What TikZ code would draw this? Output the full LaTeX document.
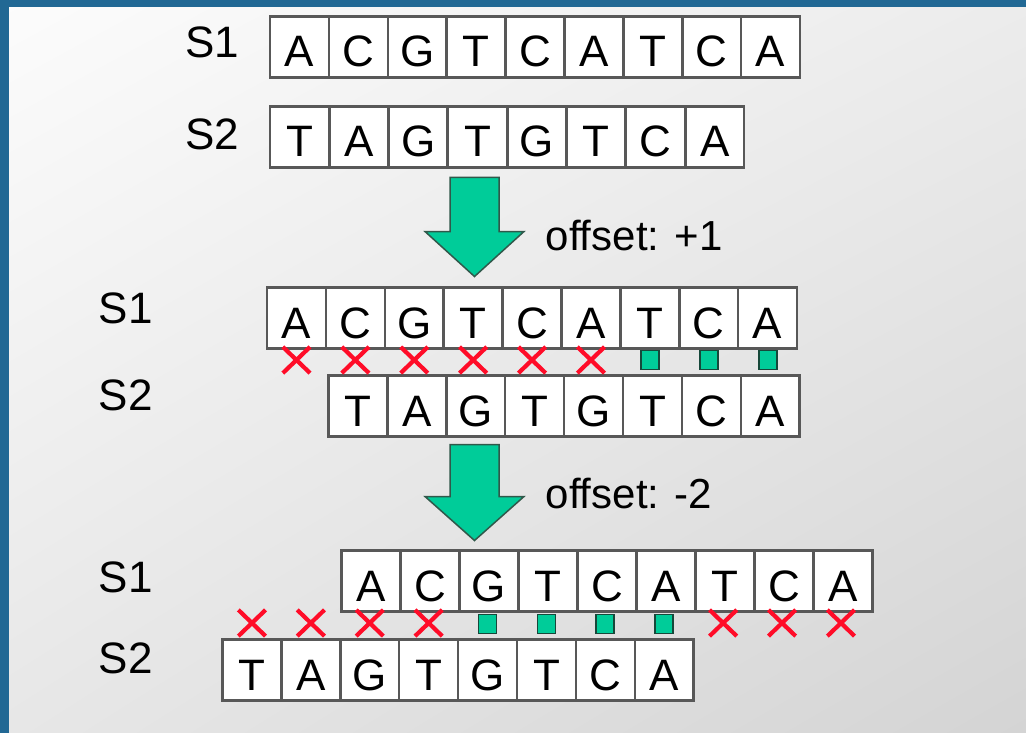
\documentclass[tikz,border=0pt]{standalone}
\usepackage{fontspec}
\setmainfont{Liberation Sans}
\usetikzlibrary{shapes.misc,shadings}
\definecolor{frameblue}{RGB}{33,104,148}
\definecolor{cellgray}{RGB}{88,88,88}
\definecolor{mgreen}{RGB}{0,204,153}
\definecolor{mgreenborder}{RGB}{22,72,58}
\definecolor{arrowborder}{RGB}{48,88,74}
\definecolor{xred}{RGB}{255,12,40}
\definecolor{bgul}{RGB}{252,252,252}
\definecolor{bgur}{RGB}{236,236,236}
\definecolor{bgll}{RGB}{231,231,231}
\definecolor{bglr}{RGB}{212,212,212}
\begin{document}
\begin{tikzpicture}[x=1pt,y=-1pt,
  cell/.style={rectangle, draw=cellgray, line width=2.5pt, fill=white,
    minimum width=58.9pt, minimum height=61pt, inner sep=0pt, outer sep=0pt,
    font=\fontsize{44}{44}\selectfont, text height=40pt, text depth=0pt},
  seqlabel/.style={font=\fontsize{44}{44}\selectfont, anchor=base west, inner sep=0pt},
  offsetlabel/.style={font=\fontsize{42}{42}\selectfont, anchor=base west, inner sep=0pt},
  mismatch/.style={cross out, draw=xred, line width=4.2pt, minimum width=23pt,
    minimum height=22pt, inner sep=0pt},
  match/.style={rectangle, draw=mgreenborder, fill=mgreen, line width=1.8pt,
    minimum width=18pt, minimum height=19pt, inner sep=0pt},
  bigarrow/.style={fill=mgreen, draw=arrowborder, line width=1.5pt, line join=miter}]
\useasboundingbox (0,0) rectangle (1026,733);
% background
\shade[shading=bilinear interpolation, upper left=bgul, upper right=bgur,
       lower left=bgll, lower right=bglr] (0,0) rectangle (1026,733);
\fill[frameblue] (0,0) rectangle (1026,7);
\fill[frameblue] (0,0) rectangle (9,733);

% ---- first pair
\node[seqlabel] (l1a) at (185,58) {S1};
\node[seqlabel] (l1b) at (185,150) {S2};
\foreach \l [count=\i] in {A,C,G,T,C,A,T,C,A}
  \node[cell] (r1a-\i) at ({270+(\i-0.5)*58.9},47) {\l};
\foreach \l [count=\i] in {T,A,G,T,G,T,C,A}
  \node[cell] (r1b-\i) at ({270+(\i-0.5)*59.3},137) {\l};

% arrow 1
\draw[bigarrow] (450,177.5) -- (499,177.5) -- (499,231.5) -- (524,231.5)
  -- (474.5,276.5) -- (425,231.5) -- (450,231.5) -- cycle;
\node[offsetlabel] (off1) at (545.5,250.5) {offset: +1};

% ---- second pair
\node[seqlabel] (l2a) at (98.5,323) {S1};
\node[seqlabel] (l2b) at (98.5,410) {S2};
\foreach \l [count=\i] in {A,C,G,T,C,A,T,C,A}
  \node[cell] (r2a-\i) at ({267+(\i-0.5)*58.9},318) {\l};
\foreach \l [count=\i] in {T,A,G,T,G,T,C,A}
  \node[cell] (r2b-\i) at ({328.5+(\i-0.5)*58.9},406) {\l};
\foreach \i in {1,...,6}
  \node[mismatch] (m2-\i) at ({267+(\i-0.5)*58.9},360) {};
\foreach \i in {7,8,9}
  \node[match] (m2-\i) at ({267+(\i-0.5)*58.9},360) {};

% arrow 2
\draw[bigarrow] (450,444.5) -- (499,444.5) -- (499,496.5) -- (524,496.5)
  -- (474.5,540.5) -- (425,496.5) -- (450,496.5) -- cycle;
\node[offsetlabel] (off2) at (545.5,508.5) {offset: -2};

% ---- third pair
\node[seqlabel] (l3a) at (98.5,592) {S1};
\node[seqlabel] (l3b) at (98.5,673) {S2};
\foreach \l [count=\i] in {A,C,G,T,C,A,T,C,A}
  \node[cell] (r3a-\i) at ({341.5+(\i-0.5)*59},581) {\l};
\foreach \l [count=\i] in {T,A,G,T,G,T,C,A}
  \node[cell] (r3b-\i) at ({222.5+(\i-0.5)*58.9},670) {\l};
\foreach \k in {0,1,2,3,8,9,10}
  \node[mismatch] (m3-\k) at ({222.5+(\k+0.5)*58.9},623) {};
\foreach \k in {4,5,6,7}
  \node[match] (m3-\k) at ({222.5+(\k+0.5)*58.9},624) {};
\end{tikzpicture}
\end{document}
